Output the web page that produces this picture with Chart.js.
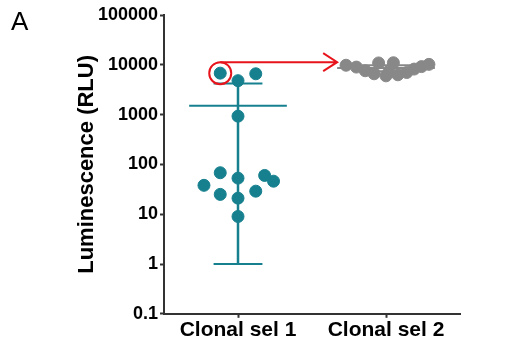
<!DOCTYPE html>
<html>
<head>
<meta charset="utf-8">
<script src="https://cdn.jsdelivr.net/npm/chart.js@4.4.1/dist/chart.umd.min.js"></script>
<style>
    html, body { margin: 0; padding: 0; background: #ffffff; }
    #wrap { width: 522px; height: 351px; position: relative; }
</style>
</head>
<body>
<div id="wrap"><canvas id="chart"></canvas></div>
<script>
// groups and axis
const groupNames = ['Clonal sel 1', 'Clonal sel 2'];
const yTickValues = [0.1, 1, 10, 100, 1000, 10000, 100000];

// clonal sel 1: jitter offset (category units) and luminescence
const sel1Jitter = [-0.12, 0.12, 0, 0, -0.12, 0, 0.18, 0.24, -0.23, -0.12, 0, 0.12, 0];
const sel1Values = [6800, 6600, 4800, 930, 68, 53, 60, 46, 38, 25, 21, 29, 9];

// clonal sel 2
const sel2Jitter = [-0.27, -0.20, -0.14, -0.08, -0.05, 0, 0.02, 0.05, 0.08, 0.14, 0.19, 0.24, 0.29];
const sel2Values = [9800, 9000, 7600, 6600, 10900, 6000, 7200, 11000, 6300, 7000, 8200, 9200, 10200];

// mean with SD bars
const groupMeans = [1500, 8600];
const groupUpper = [4200, 9800];
const groupLower = [1, 7400];

const teal = '#17808f';
const grey = '#888888';
const groupColors = [teal, grey];

// highlighted point and where the arrow points to
const circledIndex = 0;
const arrowToX = 1.67;

function points(jitter, values, center)
{
    return values.map((v, i) => ({ x: center + jitter[i], y: v }));
}

let datasets = [];
for (let g = 0; g < 2; g++)
{
    const c = g + 1;
    const col = groupColors[g];
    const seg = (data, w) => ({
        type: 'line', data: data, borderColor: col, borderWidth: w,
        pointRadius: 0, showLine: true, fill: false, order: 2
    });
    datasets.push(seg([{ x: c - 0.33, y: groupMeans[g] }, { x: c + 0.33, y: groupMeans[g] }], 2));
    datasets.push(seg([{ x: c, y: groupLower[g] }, { x: c, y: groupUpper[g] }], 2.5));
    datasets.push(seg([{ x: c - 0.165, y: groupUpper[g] }, { x: c + 0.165, y: groupUpper[g] }], 2));
    datasets.push(seg([{ x: c - 0.165, y: groupLower[g] }, { x: c + 0.165, y: groupLower[g] }], 2));
}
datasets.push({
    data: points(sel1Jitter, sel1Values, 1),
    backgroundColor: teal, borderColor: teal, pointRadius: 6, order: 1
});
datasets.push({
    data: points(sel2Jitter, sel2Values, 2),
    backgroundColor: grey, borderColor: grey, pointRadius: 6, order: 1
});

const annotate = {
    id: 'annotate',
    afterDatasetsDraw(chart)
    {
        const ctx = chart.ctx;
        const xs = chart.scales.x, ys = chart.scales.y;
        const cx = xs.getPixelForValue(1 + sel1Jitter[circledIndex]);
        const cy = ys.getPixelForValue(sel1Values[circledIndex]);
        const r = 11;
        const tip = xs.getPixelForValue(arrowToX);
        ctx.save();
        ctx.strokeStyle = '#e8141c';
        ctx.lineWidth = 2;
        ctx.beginPath();
        ctx.arc(cx, cy, r, 0, Math.PI * 2);
        ctx.stroke();
        ctx.beginPath();
        ctx.moveTo(cx, cy - r);
        ctx.lineTo(tip, cy - r);
        ctx.moveTo(tip - 14, cy - r - 9);
        ctx.lineTo(tip, cy - r);
        ctx.lineTo(tip - 14, cy - r + 9);
        ctx.stroke();
        // panel letter
        ctx.fillStyle = '#000';
        ctx.font = '26px "Liberation Sans", Arial, sans-serif';
        ctx.textBaseline = 'top';
        ctx.fillText('A', 11, 10);
        ctx.restore();
    }
};

const fontFamily = '"Liberation Sans", Arial, sans-serif';

new Chart(document.getElementById('chart'), {
    type: 'scatter',
    data: { datasets: datasets },
    plugins: [annotate],
    options: {
        responsive: true,
        maintainAspectRatio: false,
        animation: false,
        layout: { padding: { top: 15, right: 62, bottom: 8, left: 74 } },
        plugins: { legend: { display: false }, tooltip: { enabled: false } },
        scales: {
            x: {
                type: 'linear',
                min: 0.5,
                max: 2.5,
                afterBuildTicks: s => { s.ticks = [{ value: 1 }, { value: 2 }]; },
                ticks: {
                    color: '#000',
                    font: { family: fontFamily, weight: 'bold', size: 21 },
                    padding: 0,
                    callback: v => groupNames[v - 1]
                },
                grid: { drawOnChartArea: false, color: '#333', tickLength: 4, tickWidth: 2 },
                border: { color: '#333', width: 2 }
            },
            y: {
                type: 'logarithmic',
                min: 0.1,
                max: 100000,
                afterBuildTicks: s => { s.ticks = yTickValues.map(v => ({ value: v })); },
                afterFit: s => { s.width = 90; },
                ticks: {
                    color: '#000',
                    font: { family: fontFamily, weight: 'bold', size: 18 },
                    padding: 2,
                    callback: v => String(v)
                },
                title: {
                    display: true,
                    text: 'Luminescence (RLU)',
                    color: '#000',
                    font: { family: fontFamily, weight: 'bold', size: 22 },
                    padding: 0
                },
                grid: { drawOnChartArea: false, color: '#333', tickLength: 4, tickWidth: 2 },
                border: { color: '#333', width: 2 }
            }
        }
    }
});
</script>
</body>
</html>
